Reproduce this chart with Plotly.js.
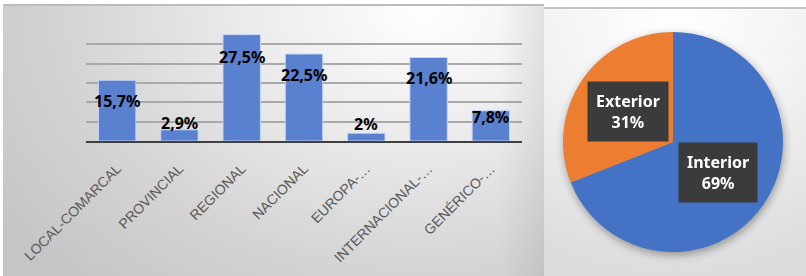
<!DOCTYPE html>
<html>
<head>
<meta charset="utf-8">
<script src="https://cdn.plot.ly/plotly-3.0.1.min.js"></script>
<style>
  html, body { margin:0; padding:0; width:806px; height:276px; background:#ffffff; overflow:hidden; }
  #leftPanel { position:absolute; left:3px; top:4px; width:541px; height:272px;
    border-top:2px solid #bcbcbc; box-sizing:border-box;
    background:
      linear-gradient(to left, rgba(0,0,0,0.07) 0px, rgba(0,0,0,0) 45px),
      radial-gradient(ellipse 95% 140% at 78% 0%, #ffffff 0%, #ebebeb 35%, #d4d4d4 70%, #c5c5c5 100%); }
  #rightPanel { position:absolute; left:544px; top:7px; width:262px; height:269px;
    border-top:2px solid #c4c4c4; box-sizing:border-box;
    background: radial-gradient(ellipse 110% 100% at 50% 0%, #ffffff 0%, #f3f3f3 45%, #dcdcdc 100%); }
  #bar { position:absolute; left:0; top:-2px; width:541px; height:272px; }
  #pie { position:absolute; left:0; top:-2px; width:262px; height:269px;
    filter: drop-shadow(1px 3px 4px rgba(0,0,0,0.35)); }
</style>
</head>
<body>
<div id="leftPanel"><div id="bar"></div></div>
<div id="rightPanel"><div id="pie"></div></div>
<script>
// ---- Data ----
const categories = ['LOCAL-COMARCAL','PROVINCIAL','REGIONAL','NACIONAL','EUROPA-…','INTERNACIONAL-…','GENÉRICO-…'];
const shares = [15.7, 2.9, 27.5, 22.5, 2, 21.6, 7.8];
const pieLabels = ['Interior','Exterior'];
const pieValues = [69, 31];

// ---- Styles ----
const labelShift = [-21, 7, -22, -21, 9, -21, -6]; // px offset of each data label from its bar top
const blue = '#5a81cf';
const orange = '#ed7d31';
const pieBlue = '#4472c4';

const fmt = v => String(v).replace('.', ',') + '%';

const barTrace = {
  type:'bar', x:categories, y:shares,
  marker:{color:blue, line:{color:'rgba(200,215,245,0.9)', width:1}},
  hoverinfo:'none', width:0.6
};

const barAnnots = categories.map((c,i) => ({
  x:c, y:shares[i], xref:'x', yref:'y', text:'<b>'+fmt(shares[i])+'</b>',
  showarrow:false, yshift:labelShift[i], xanchor:'center', yanchor:'middle',
  font:{family:'Noto Sans, Liberation Sans, sans-serif', size:16, color:'#000000'}
}));

Plotly.newPlot('bar', [barTrace], {
  width:541, height:272,
  margin:{l:83, r:22, t:21, b:135, pad:0},
  paper_bgcolor:'rgba(0,0,0,0)', plot_bgcolor:'rgba(0,0,0,0)',
  showlegend:false,
  xaxis:{type:'category', tickangle:-45, showgrid:false, showline:true, linecolor:'#404040', linewidth:2,
    ticks:'', ticklabelstandoff:12,
    tickfont:{family:'Liberation Sans, Arial, sans-serif', size:14, color:'#595959'}, automargin:false},
  yaxis:{range:[0,30], dtick:5, showticklabels:false, ticks:'', gridcolor:'#a9a9a9', gridwidth:2,
    zeroline:false, showline:false},
  annotations:barAnnots
}, {staticPlot:true});

// ---- Pie ----
const total = pieValues.reduce((a,b)=>a+b,0);
let cum = 0;
const pieAnnots = pieValues.map((v,i) => {
  const mid = (cum + v/2) / total * 2*Math.PI; // clockwise from 12 o'clock
  cum += v;
  const k = 0.49;
  return {
    xref:'paper', yref:'paper', x:0.5 + 0.5*k*Math.sin(mid), y:0.5 + 0.5*k*Math.cos(mid),
    xanchor:'center', yanchor:'middle',
    text:'<b>'+pieLabels[i]+'<br>'+Math.round(v/total*100)+'%</b>',
    showarrow:false, bgcolor:'#3b3b3b', borderpad:8, align:'center',
    font:{family:'Noto Sans, Liberation Sans, sans-serif', size:16, color:'#ffffff'}
  };
});

Plotly.newPlot('pie', [{
  type:'pie', labels:pieLabels, values:pieValues, sort:false, direction:'clockwise', rotation:0,
  marker:{colors:[pieBlue, orange], line:{width:0}}, textinfo:'none', hoverinfo:'none'
}], {
  width:262, height:269,
  margin:{l:19, r:23, t:25, b:24},
  paper_bgcolor:'rgba(0,0,0,0)', showlegend:false,
  annotations:pieAnnots
}, {staticPlot:true});
</script>
</body>
</html>
